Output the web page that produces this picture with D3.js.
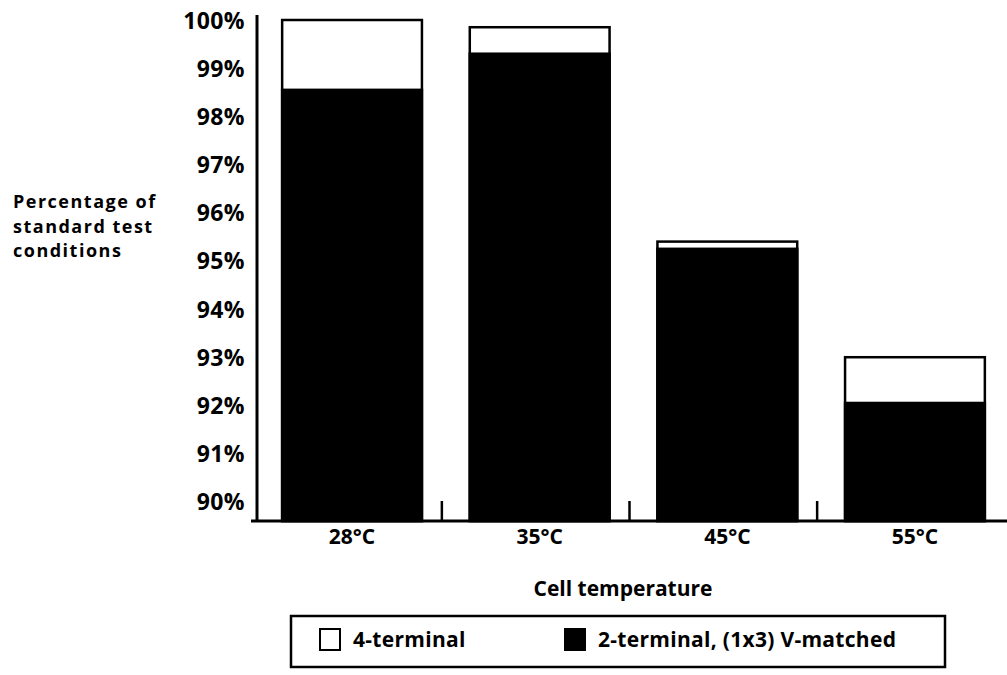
<!DOCTYPE html>
<html>
<head>
<meta charset="utf-8">
<script src="https://cdn.jsdelivr.net/npm/d3@7"></script>
<style>
  html, body { margin: 0; padding: 0; background: #fff; }
  svg { display: block; }
  text { font-family: "Open Sans", "Noto Sans", sans-serif; fill: #000; }
</style>
</head>
<body>
<div id="chart"></div>
<script>
const categories = ["28°C", "35°C", "45°C", "55°C"];
const fourTerminal = [100.0, 99.85, 95.4, 93.0];
const twoTerminal = [98.55, 99.3, 95.25, 92.05];
const yTicks = [90, 91, 92, 93, 94, 95, 96, 97, 98, 99, 100];
const seriesNames = ["4-terminal", "2-terminal, (1x3) V-matched"];
const yTitle = ["Percentage of", "standard test", "conditions"];
const xTitle = "Cell temperature";

const W = 1007, H = 675;
const svg = d3.select("#chart").append("svg").attr("width", W).attr("height", H);

const y = d3.scaleLinear().domain([89.6, 100]).range([521, 20]);
const x = d3.scaleBand().domain(categories).range([254, 1013]).paddingInner(0.255).paddingOuter(0.15);

const axisX = 257;
const base = y(89.6);

// Bars: 4-terminal (white, outlined) and 2-terminal (black)
const g = svg.append("g");
g.selectAll("rect.four").data(categories).join("rect")
  .attr("class", "four")
  .attr("x", d => x(d))
  .attr("y", (d, i) => y(fourTerminal[i]))
  .attr("width", x.bandwidth())
  .attr("height", (d, i) => base - y(fourTerminal[i]))
  .attr("fill", "#fff").attr("stroke", "#000").attr("stroke-width", 2.5);
g.selectAll("rect.two").data(categories).join("rect")
  .attr("class", "two")
  .attr("x", d => x(d))
  .attr("y", (d, i) => y(twoTerminal[i]))
  .attr("width", x.bandwidth())
  .attr("height", (d, i) => base - y(twoTerminal[i]))
  .attr("fill", "#000").attr("stroke", "#000").attr("stroke-width", 2.5);

// Y axis
const yAxis = d3.axisLeft(y).tickValues(yTicks).tickSize(0).tickPadding(12)
  .tickFormat(d => d + "%");
const ya = svg.append("g").attr("transform", `translate(${axisX},0)`).call(yAxis);
ya.select(".domain").remove();
ya.append("line").attr("x1", 0).attr("x2", 0).attr("y1", 15).attr("y2", base)
  .attr("stroke", "#000").attr("stroke-width", 3);
ya.selectAll(".tick text").attr("font-size", 23).attr("font-weight", 700)
  .attr("letter-spacing", 0.4)
  .attr("dy", "0.35em").attr("fill", "#000").style("font-family", "'Open Sans', sans-serif");

// X axis
const xAxis = d3.axisBottom(x).tickSize(0).tickPadding(8);
const xa = svg.append("g").attr("transform", `translate(0,${base})`).call(xAxis);
xa.select(".domain").remove();
xa.append("line").attr("x1", axisX - 6).attr("x2", 1007).attr("y1", 0).attr("y2", 0)
  .attr("stroke", "#000").attr("stroke-width", 3);
xa.selectAll(".tick text").attr("font-size", 21).attr("font-weight", 700)
  .attr("fill", "#000").style("font-family", "'Open Sans', sans-serif");
// separator ticks between categories
const seps = categories.slice(1).map(c => x(c) - x.step() * x.paddingInner() / 2);
xa.selectAll("line.sep").data(seps).join("line").attr("class", "sep")
  .attr("x1", d => d - 4).attr("x2", d => d - 4).attr("y1", -20).attr("y2", 0)
  .attr("stroke", "#000").attr("stroke-width", 2.5);

// Y title
const yt = svg.append("text").attr("x", 13).attr("y", 208)
  .attr("font-size", 18).attr("font-weight", 700).attr("letter-spacing", 1.5);
yt.selectAll("tspan").data(yTitle).join("tspan")
  .attr("x", 13).attr("dy", (d, i) => i === 0 ? 0 : 24.5).text(d => d);

// X title
svg.append("text").attr("x", 623).attr("y", 596).attr("text-anchor", "middle")
  .attr("font-size", 21).attr("font-weight", 700).text(xTitle);

// Legend
const lg = svg.append("g");
lg.append("rect").attr("x", 291).attr("y", 616).attr("width", 654).attr("height", 51)
  .attr("fill", "#fff").attr("stroke", "#000").attr("stroke-width", 2.5);
const legendItems = [
  { name: seriesNames[0], fill: "#fff", x: 320 },
  { name: seriesNames[1], fill: "#000", x: 565 }
];
const li = lg.selectAll("g.item").data(legendItems).join("g").attr("class", "item")
  .attr("transform", d => `translate(${d.x},629)`);
li.append("rect").attr("x", 0).attr("y", 0).attr("width", 20).attr("height", 21)
  .attr("fill", d => d.fill).attr("stroke", "#000").attr("stroke-width", 2);
li.append("text").attr("x", 33).attr("y", 10.5).attr("dy", "0.35em")
  .attr("font-size", 21).attr("font-weight", 700).attr("letter-spacing", 0.3)
  .text(d => d.name);
</script>
</body>
</html>
